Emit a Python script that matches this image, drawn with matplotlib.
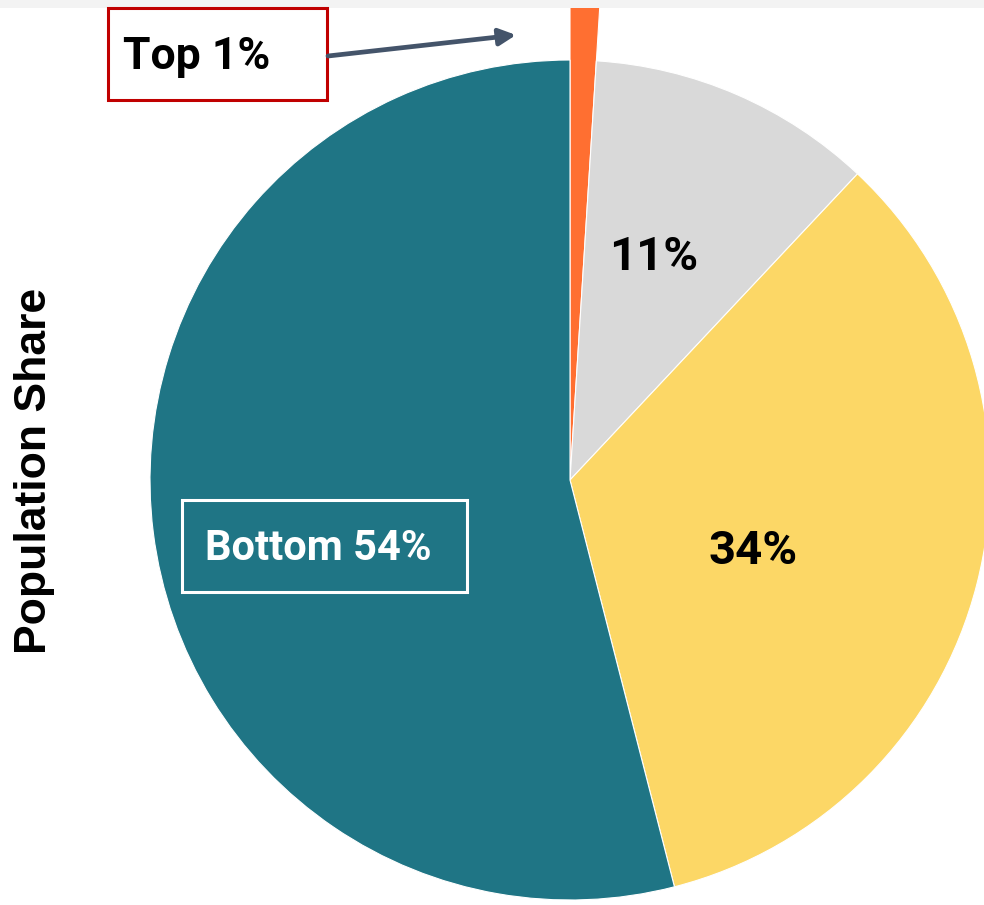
"""
Population share pie: Top 1% / 11% / 34% / Bottom 54%
"""
import matplotlib; matplotlib.use("Agg")
import matplotlib.pyplot as plt
from matplotlib.patches import Rectangle

# data
labels = ["Top 1%", "Next 11%", "Middle 34%", "Bottom 54%"]
shares = [1, 11, 34, 54]
colors = ["#FF6F31", "#D9D9D9", "#FCD766", "#1F7585"]
inside_text = ["", "11%", "34%", "Bottom 54%"]

W, H = 984, 905
fig = plt.figure(figsize=(W / 100, H / 100), dpi=100, facecolor="white")

def fx(x): return x / W
def fy(y): return 1 - y / H

# pie centre at (570, 480) px, radius 420 px
ax = fig.add_axes([fx(150), fy(900), 840 / W, 840 / H])
wedges, _ = ax.pie(shares, colors=colors, startangle=90, counterclock=False,
                   wedgeprops=dict(edgecolor="white", linewidth=0.8))
wedges[0].set_radius(1.2)          # the top 1% slice sticks out of the pie
wedges[0].set_clip_on(False)
ax.set_xlim(-1, 1); ax.set_ylim(-1, 1)
ax.set_aspect("equal")
ax.axis("off")

# faint band at the top edge of the original crop
fig.add_artist(Rectangle((0, fy(8)), 1, 8 / H, transform=fig.transFigure,
                         facecolor="#F3F3F3", edgecolor="none", zorder=5))

lab = dict(family="Roboto", fontweight="bold", ha="center", va="center")
ax.text(0.20, 0.532, inside_text[1], fontsize=34, color="black", **lab)
ax.text(0.436, -0.170, inside_text[2], fontsize=34, color="black", **lab)

# Bottom 54% boxed label
fig.add_artist(Rectangle((fx(182), fy(592)), 285 / W, 92 / H,
                         transform=fig.transFigure, facecolor="none",
                         edgecolor="white", linewidth=2.2, zorder=6))
fig.text(fx(318), fy(549), inside_text[3], fontsize=30, color="white",
         zorder=7, **lab)

# Top 1% callout
fig.add_artist(Rectangle((fx(108), fy(100)), 219 / W, 92 / H,
                         transform=fig.transFigure, facecolor="white",
                         edgecolor="#C00000", linewidth=2.2, zorder=6))
fig.text(fx(197), fy(57), labels[0], fontsize=32, color="black", zorder=7, **lab)
fig.add_artist(plt.Annotation("", xy=(fx(516), fy(35)), xytext=(fx(328), fy(56)),
                              xycoords="figure fraction", textcoords="figure fraction",
                              arrowprops=dict(arrowstyle="-|>,head_length=1.0,head_width=0.5",
                                              color="#44546A", lw=3.4,
                                              shrinkA=0, shrinkB=0),
                              zorder=7))

fig.text(fx(35), fy(471), "Population Share", rotation=90, fontsize=32,
         family="Liberation Sans", fontweight="bold", ha="center", va="center")

fig.savefig("out.png", dpi=100, facecolor="white")
